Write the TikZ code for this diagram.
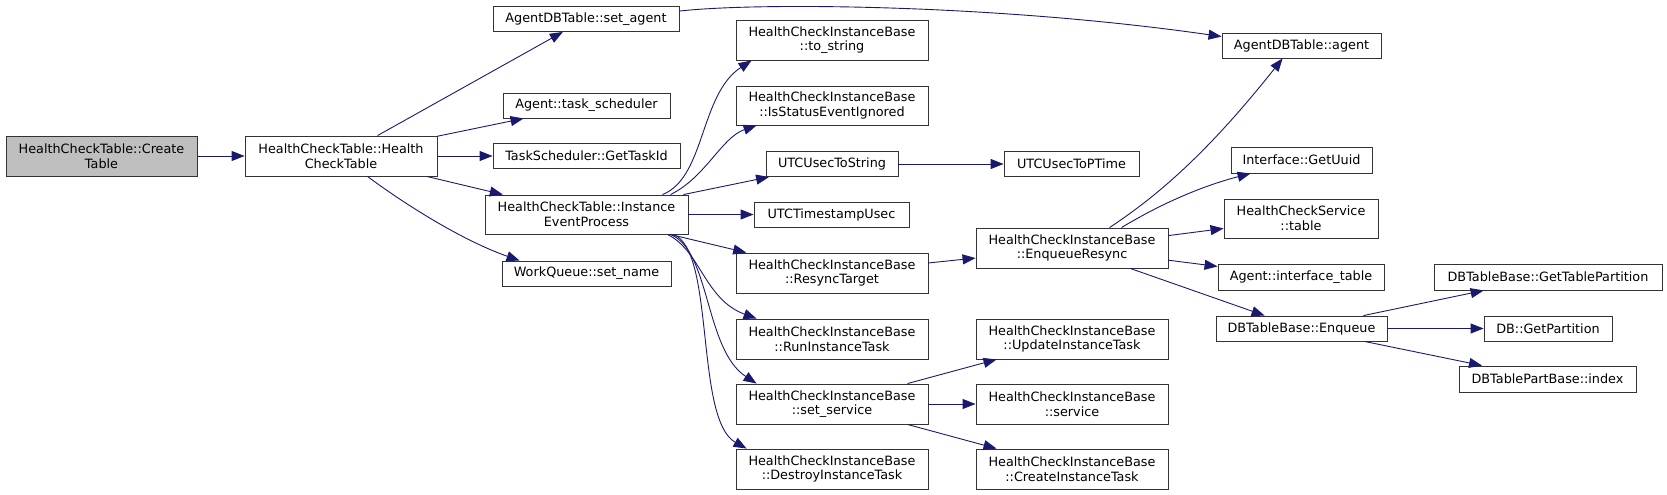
\documentclass[tikz,border=0pt]{standalone}
\usepackage{fontspec}
\setmainfont{DejaVu Sans}
\usetikzlibrary{arrows.meta}
\definecolor{edgeblue}{HTML}{191970}

\begin{document}
\begin{tikzpicture}[x=1pt, y=-1pt,
    fn/.style={draw=black!80, fill=white, line width=0.9pt, inner sep=0pt, align=center,
        font=\fontsize{12.8}{14.7}\selectfont, minimum height=25},
    fntwo/.style={fn, minimum height=40},
    root/.style={fntwo, fill=gray!50},
    call/.style={draw=edgeblue, line width=0.9pt, -{Triangle[length=13pt, width=10pt]}}]
    \useasboundingbox (0,0) rectangle (1667,495);
    \def\Wbase{192};
    % Caller and first level
    \node[root, minimum width=191] (create) at (101.5,156) {HealthCheckTable::Create\\Table};
    \node[fntwo, minimum width=192] (hct) at (341,156) {HealthCheckTable::Health\\CheckTable};
    \node[fn, minimum width=186] (setagent) at (586,19) {AgentDBTable::set\_agent};
    \node[fn, minimum width=167] (tasksched) at (586.5,105.5) {Agent::task\_scheduler};
    \node[fn, minimum width=187] (gettaskid) at (586.5,156) {TaskScheduler::GetTaskId};
    \node[fntwo, minimum width=203, minimum height=39] (iep) at (586.5,214.5) {HealthCheckTable::Instance\\EventProcess};
    \node[fn, minimum width=169] (setname) at (586.5,273.5) {WorkQueue::set\_name};
    % Callees of the event process
    \node[fntwo, minimum width=\Wbase] (tostring) at (832,40) {HealthCheckInstanceBase\\::to\_string};
    \node[fntwo, minimum width=\Wbase, minimum height=39] (isstatus) at (832,105.5) {HealthCheckInstanceBase\\::IsStatusEventIgnored};
    \node[fn, minimum width=132] (usectostring) at (832,164) {UTCUsecToString};
    \node[fn, minimum width=155] (timestamp) at (831.5,214.5) {UTCTimestampUsec};
    \node[fntwo, minimum width=\Wbase] (resync) at (832,273) {HealthCheckInstanceBase\\::ResyncTarget};
    \node[fntwo, minimum width=\Wbase] (runtask) at (832,339) {HealthCheckInstanceBase\\::RunInstanceTask};
    \node[fntwo, minimum width=\Wbase] (setservice) at (832,404) {HealthCheckInstanceBase\\::set\_service};
    \node[fntwo, minimum width=\Wbase] (destroy) at (832,469) {HealthCheckInstanceBase\\::DestroyInstanceTask};
    % Third column
    \node[fn, minimum width=135] (ptime) at (1071.5,164) {UTCUsecToPTime};
    \node[fntwo, minimum width=\Wbase] (enqresync) at (1072,248) {HealthCheckInstanceBase\\::EnqueueResync};
    \node[fntwo, minimum width=\Wbase] (update) at (1072,339) {HealthCheckInstanceBase\\::UpdateInstanceTask};
    \node[fntwo, minimum width=\Wbase] (service) at (1072,404) {HealthCheckInstanceBase\\::service};
    \node[fntwo, minimum width=\Wbase] (createtask) at (1072,469) {HealthCheckInstanceBase\\::CreateInstanceTask};
    % Fourth column
    \node[fn, minimum width=159] (agent) at (1301.5,45.5) {AgentDBTable::agent};
    \node[fn, minimum width=141, minimum height=26] (getuuid) at (1301.5,160) {Interface::GetUuid};
    \node[fntwo, minimum width=154, minimum height=39] (hcstable) at (1301,218.5) {HealthCheckService\\::table};
    \node[fn, minimum width=166, minimum height=26] (iftable) at (1301,277) {Agent::interface\_table};
    \node[fn, minimum width=171] (enqueue) at (1301.5,328.5) {DBTableBase::Enqueue};
    % Last column
    \node[fn, minimum width=228, minimum height=26] (gettablepart) at (1548,277) {DBTableBase::GetTablePartition};
    \node[fn, minimum width=128] (getpartition) at (1548,328.5) {DB::GetPartition};
    \node[fn, minimum width=177, minimum height=26] (index) at (1547.5,379) {DBTablePartBase::index};
    % Calls out of HealthCheckTable
    \draw[call] (create) -- (hct);
    \draw[call] (hct) -- (setagent);
    \draw[call] (hct) -- (tasksched);
    \draw[call] (hct) -- (gettaskid);
    \draw[call] (hct) -- (iep);
    \draw[call] ([xshift=123]hct.south west) .. controls +(32,24) and +(-60,-21) .. ([xshift=18]setname.north west);
    \draw[call] ([yshift=-5]setagent.north east) .. controls +(81,-9) and +(-222,-32) .. ([yshift=-4]agent.north west);
    % Calls out of the event process
    \draw[call] ([xshift=-26]iep.north east) .. controls +(43,-17) and +(-52,34) .. ([xshift=16]tostring.south west);
    \draw[call] ([xshift=-18]iep.north east) .. controls +(35,-17) and +(-35,12) .. ([xshift=21]isstatus.south west);
    \draw[call] (iep) -- (usectostring);
    \draw[call] (iep) -- (timestamp);
    \draw[call] (iep) -- (resync);
    \draw[call] ([xshift=-21]iep.south east) .. controls +(33,16) and +(-52,-19) .. ([xshift=21]runtask.north west);
    \draw[call] ([xshift=-18]iep.south east) .. controls +(40,16) and +(-52,-34) .. ([xshift=21]setservice.north west);
    \draw[call] ([xshift=-15]iep.south east) .. controls +(42,16) and +(-52,-29) .. ([xshift=11]destroy.north west);
    \draw[call] (usectostring) -- (ptime);
    % Calls out of the resync chain
    \draw[call] (resync) -- (enqresync);
    \draw[call] ([xshift=134]enqresync.north west) .. controls +(50,-33) and +(-73,92) .. ([xshift=61]agent.south west);
    \draw[call] ([xshift=146]enqresync.north west) .. controls +(38,-23) and +(-50,13) .. ([xshift=20]getuuid.south west);
    \draw[call] (enqresync) -- (hcstable);
    \draw[call] (enqresync) -- (iftable);
    \draw[call] (enqresync) -- (enqueue);
    \draw[call] (setservice) -- (update);
    \draw[call] (setservice) -- (service);
    \draw[call] (setservice) -- (createtask);
    \draw[call] (enqueue) -- (gettablepart);
    \draw[call] (enqueue) -- (getpartition);
    \draw[call] (enqueue) -- (index);
\end{tikzpicture}
\end{document}
